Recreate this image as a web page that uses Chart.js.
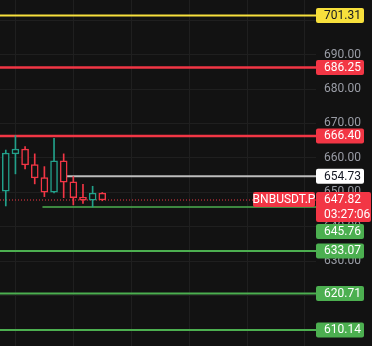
<!DOCTYPE html>
<html>
<head>
<meta charset="utf-8">
<script src="https://cdn.jsdelivr.net/npm/chart.js@4.4.0/dist/chart.umd.min.js"></script>
<style>
  html, body { margin: 0; padding: 0; background: #121212; }
  #wrap { width: 372px; height: 346px; }
</style>
</head>
<body>
<div id="wrap"><canvas id="myChart" width="372" height="346"></canvas></div>
<script>
// candles
var opens  = [650.4, 661.2, 662.6, 658.1, 654.3, 650.1, 659.2, 653.1, 648.6, 647.8, 649.8];
var closes = [661.45, 662.6, 658.0, 654.2, 650.1, 659.2, 653.0, 648.5, 647.8, 649.8, 647.82];
var highs  = [662.3, 666.5, 663.3, 661.2, 657.5, 665.7, 661.2, 654.6, 652.4, 651.8, 650.0];
var lows   = [646.1, 655.4, 656.8, 652.5, 648.8, 649.9, 648.5, 646.4, 646.8, 645.8, 647.6];

// horizontal levels
var levelValues = [701.31, 686.25, 666.40, 654.73, 645.76, 633.07, 620.71, 610.14];
var levelColors = ['#f7e03c', '#f23645', '#f23645', '#bdbdbd', '#4caf50', '#4caf50', '#4caf50', '#4caf50'];
var levelBoxColors = ['#f7e03c', '#f23645', '#f23645', '#ffffff', '#4caf50', '#4caf50', '#4caf50', '#4caf50'];
var levelTextColors = ['#131722', '#ffffff', '#ffffff', '#131722', '#ffffff', '#ffffff', '#ffffff', '#ffffff'];
var levelStarts = [-0.6, -0.6, -0.6, 5.8, 3.8, -0.6, -0.6, -0.6];
var levelWidths = [2, 2.5, 2.5, 2, 1.5, 2, 2, 2];

var lastPrice = 647.82;
var symbolName = 'BNBUSDT.P';
var countdown = '03:27:06';

var priceTicks = [610, 620, 630, 640, 650, 660, 670, 680, 690, 700];
var timeGrid = [1, 7, 13, 19, 25, 31];

var upColor = '#22a08a';
var downColor = '#f23645';
var bg = '#121212';
var xMin = -0.6, xMax = 32.15;

var candleColors = opens.map(function(o, i) {
  return closes[i] >= o ? upColor : downColor;
});

var datasets = [
  {
    type: 'bar',
    data: opens.map(function(o, i) { return { x: i, y: [o, closes[i]] }; }),
    backgroundColor: bg,
    borderColor: candleColors,
    borderWidth: 1.5,
    borderSkipped: false,
    barThickness: 7,
    grouped: false
  },
  {
    type: 'bar',
    data: lows.map(function(l, i) { return { x: i, y: [l, highs[i]] }; }),
    backgroundColor: candleColors,
    borderWidth: 0,
    barThickness: 1,
    grouped: false
  }
];

levelValues.forEach(function(v, i) {
  datasets.push({
    type: 'line',
    data: [{ x: levelStarts[i], y: v }, { x: xMax, y: v }],
    borderColor: levelColors[i],
    borderWidth: levelWidths[i],
    pointRadius: 0
  });
});

datasets.push({
  type: 'line',
  data: [{ x: xMin, y: lastPrice }, { x: xMax, y: lastPrice }],
  borderColor: downColor,
  borderWidth: 1,
  borderDash: [1, 2],
  pointRadius: 0
});

var labelsPlugin = {
  id: 'labels',
  beforeDraw: function(chart) {
    var c = chart.ctx;
    c.save();
    c.fillStyle = bg;
    c.fillRect(0, 0, chart.width, chart.height);
    c.restore();
  },
  afterDraw: function(chart) {
    var c = chart.ctx;
    var y = chart.scales.y;
    var left = chart.chartArea.right;
    var boxes = [];
    var py = y.getPixelForValue(lastPrice);
    boxes.push({ top: py - 8, h: 30, w: 55, color: downColor, text: [lastPrice.toFixed(2), countdown], tc: '#ffffff' });
    levelValues.forEach(function(v, i) {
      var p = y.getPixelForValue(v);
      boxes.push({ top: p - 7.5, h: 15, w: 48, color: levelBoxColors[i], text: [v.toFixed(2)], tc: levelTextColors[i] });
    });
    boxes.sort(function(a, b) { return a.top - b.top; });
    for (var i = 1; i < boxes.length; i++) {
      var prev = boxes[i - 1];
      if (boxes[i].top < prev.top + prev.h + 1) boxes[i].top = prev.top + prev.h + 2;
    }
    c.save();
    c.font = '12px Roboto';
    c.textBaseline = 'middle';
    boxes.forEach(function(b) {
      c.fillStyle = b.color;
      c.beginPath();
      c.roundRect(left, b.top, b.w, b.h, 2);
      c.fill();
      c.fillStyle = b.tc;
      c.textAlign = 'left';
      b.text.forEach(function(t, k) {
        c.fillText(t, left + 8, b.top + 8 + k * 15);
      });
    });
    // symbol tag
    c.fillStyle = downColor;
    c.beginPath();
    c.roundRect(left - 63, py - 8, 62, 15, 2);
    c.fill();
    c.fillStyle = '#ffffff';
    c.textAlign = 'center';
    c.fillText(symbolName, left - 32, py);
    c.restore();
  }
};

var ctx = document.getElementById('myChart').getContext('2d');
var myChart = new Chart(ctx, {
  data: { datasets: datasets },
  options: {
    responsive: false,
    animation: false,
    events: [],
    layout: { padding: 0 },
    plugins: { legend: { display: false }, tooltip: { enabled: false } },
    scales: {
      x: {
        type: 'linear',
        min: xMin,
        max: xMax,
        offset: false,
        grid: { color: '#1f1f1f', offset: false, drawTicks: false },
        border: { display: false },
        ticks: { display: false },
        afterBuildTicks: function(scale) {
          scale.ticks = timeGrid.map(function(v) { return { value: v }; });
        },
        afterFit: function(scale) {
          scale.height = 0;
          scale.paddingLeft = 0;
          scale.paddingRight = 0;
        }
      },
      y: {
        position: 'right',
        min: 605.5,
        max: 705.8,
        grid: { color: '#1f1f1f', drawTicks: false },
        border: { display: false },
        ticks: {
          color: '#9a9da6',
          padding: 8,
          font: { family: 'Roboto', size: 12 },
          callback: function(v) { return v.toFixed(2); }
        },
        afterBuildTicks: function(scale) {
          scale.ticks = priceTicks.map(function(v) { return { value: v }; });
        },
        afterFit: function(scale) {
          scale.width = 56;
          scale.paddingTop = 0;
          scale.paddingBottom = 0;
        }
      }
    }
  },
  plugins: [labelsPlugin]
});
</script>
</body>
</html>
